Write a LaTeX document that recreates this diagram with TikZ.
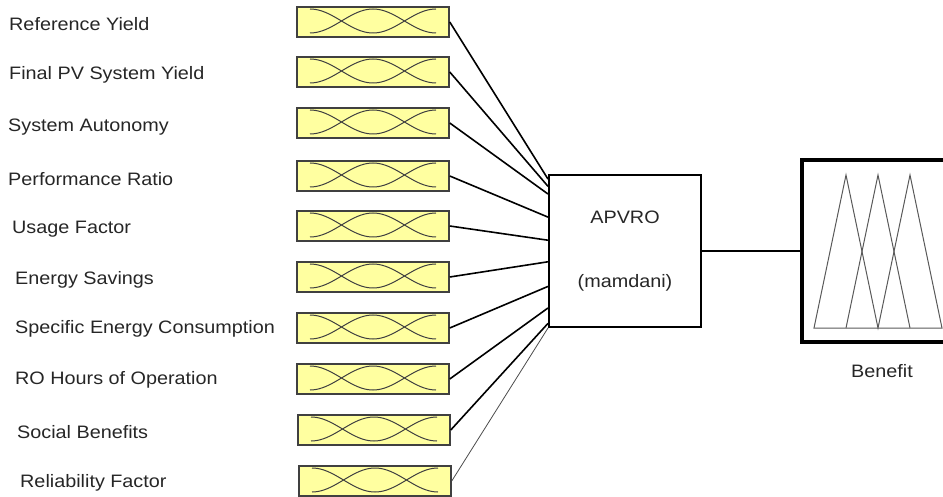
\documentclass[tikz,border=0pt]{standalone}
\usepackage{fontspec}
\newfontfamily\diagfont{Liberation Sans}[FakeStretch=1.1]
\usepackage{tikz}
\usetikzlibrary{calc,positioning}
\definecolor{mfyellow}{RGB}{255,255,160}
\definecolor{mfgray}{RGB}{64,64,64}
\tikzset{
    inlabel/.style={
    anchor=base west,inner sep=0pt,font=\diagfont\fontsize{18}{21.6}\selectfont,text=black!85
    },
    mfbox/.style={
    rectangle,draw=mfgray,fill=mfyellow,line width=1.5pt,minimum width=152pt,minimum height=30pt,inner sep=0pt
    },
    mfline/.style={draw=mfgray,line width=1pt},
    rulebox/.style={rectangle,draw=black,line width=2pt,minimum width=152pt,minimum height=152pt,align=center,
    font=\diagfont\fontsize{18}{21.6}\selectfont,text=black!85},
    outbox/.style={rectangle,minimum width=143pt,minimum height=182pt,inner sep=0pt},
    outframe/.style={draw=black,line width=4.5pt},
  conn/.style={draw=black,line width=1.6pt},
  thinconn/.style={draw=black!70,line width=0.8pt},
  outmf/.style={draw=gray!70!black,line width=1pt},
  mfset/.pic={
    \draw[mfline] plot[domain=-63:0,samples=25,smooth] (\x,{11-12*(1+cos((\x+63)*180/63))});
    \draw[mfline] plot[domain=-63:63,samples=41,smooth] (\x,{11-12*(1+cos(\x*180/63))});
    \draw[mfline] plot[domain=0:63,samples=25,smooth] (\x,{11-12*(1+cos((\x-63)*180/63))});
  },
}
\begin{document}
\begin{tikzpicture}[x=1pt,y=-1pt]
\useasboundingbox (0,0) rectangle (943,497);

  % input names
  \node[inlabel] (lab1) at (9,31) {Reference Yield};
  \node[inlabel] (lab2) at (9,80) {Final PV System Yield};
  \node[inlabel] (lab3) at (8,132) {System Autonomy};
  \node[inlabel] (lab4) at (8,186) {Performance Ratio};
  \node[inlabel] (lab5) at (12,234) {Usage Factor};
  \node[inlabel] (lab6) at (15,285) {Energy Savings};
  \node[inlabel] (lab7) at (15,334) {Specific Energy Consumption};
  \node[inlabel] (lab8) at (15,384) {RO Hours of Operation};
  \node[inlabel] (lab9) at (17,438) {Social Benefits};
  \node[inlabel] (lab10) at (20,487) {Reliability Factor};

  % input membership boxes
  \node[mfbox] (in1) at (373,22) {};
  \node[mfbox] (in2) at (373,72) {};
  \node[mfbox] (in3) at (373,123) {};
  \node[mfbox] (in4) at (373,176) {};
  \node[mfbox] (in5) at (373,226) {};
  \node[mfbox] (in6) at (373,277) {};
  \node[mfbox] (in7) at (373,328) {};
  \node[mfbox] (in8) at (373,379) {};
  \node[mfbox] (in9) at (374,430) {};
  \node[mfbox] (in10) at (375,481) {};
  \pic at (in1) {mfset};
  \pic at (in2) {mfset};
  \pic at (in3) {mfset};
  \pic at (in4) {mfset};
  \pic at (in5) {mfset};
  \pic at (in6) {mfset};
  \pic at (in7) {mfset};
  \pic at (in8) {mfset};
  \pic at (in9) {mfset};
  \pic at (in10) {mfset};

  % rule block
  \node[rulebox] (apvro) at (625,251) {APVRO\\[43pt](mamdani)};
  \path[conn] (in1.east) -- ($(apvro.north west)!0.033!(apvro.south west)$);
  \path[conn] (in2.east) -- ($(apvro.north west)!0.08!(apvro.south west)$);
  \path[conn] (in3.east) -- ($(apvro.north west)!0.13!(apvro.south west)$);
  \path[conn] (in4.east) -- ($(apvro.north west)!0.28!(apvro.south west)$);
  \path[conn] (in5.east) -- ($(apvro.north west)!0.43!(apvro.south west)$);
  \path[conn] (in6.east) -- ($(apvro.north west)!0.57!(apvro.south west)$);
  \path[conn] (in7.east) -- ($(apvro.north west)!0.73!(apvro.south west)$);
  \path[conn] (in8.east) -- ($(apvro.north west)!0.87!(apvro.south west)$);
  \path[conn] (in9.east) -- ($(apvro.north west)!0.97!(apvro.south west)$);
  \path[thinconn] (in10.east) -- ($(apvro.north west)!1.0!(apvro.south west)$);

  % output
  \node[outbox] (benefit) at (873.5,251) {};
  \path[conn] (apvro) -- (benefit);
  \path[outframe] (benefit.north east) -- (benefit.north west) -- (benefit.south west) -- (benefit.south east);
  \path[outmf] (814,328) -- (846,175) -- (878,328) -- (910,175) -- (942,328) -- cycle;
  \path[outmf] (846,328) -- (878,175) -- (910,328);
  \node[inlabel,anchor=base] (benlab) at (882,377) {Benefit};
\end{tikzpicture}
\end{document}
